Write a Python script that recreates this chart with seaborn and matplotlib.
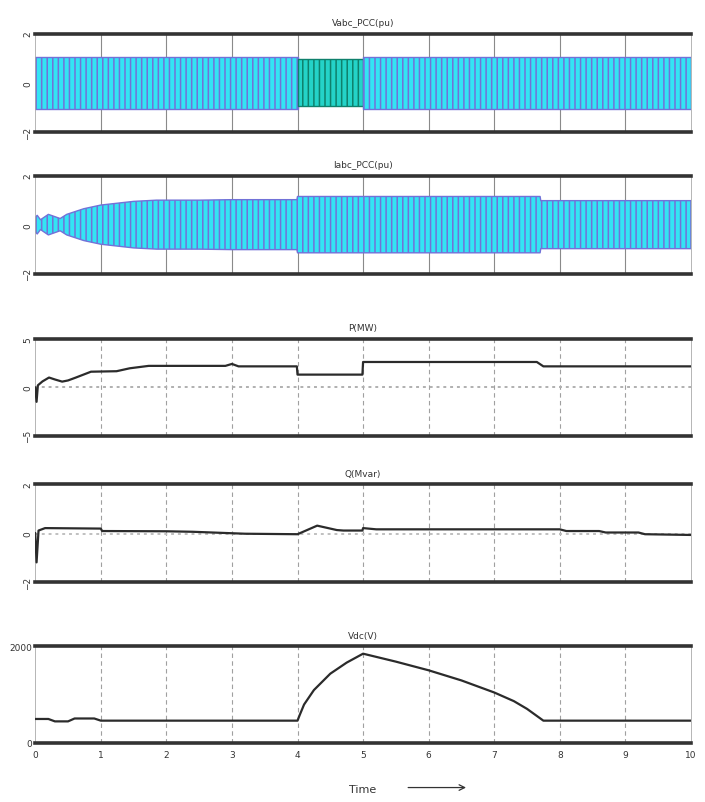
import matplotlib
matplotlib.use("Agg")
import matplotlib.pyplot as plt
import numpy as np
import pandas as pd
import seaborn as sns

# ---- data (time in s) ----
# envelope of the three-phase PCC voltage (pu)
vabc_t = [0, 4, 4, 5, 5, 10]
vabc_amp = [1.05, 1.05, 0.95, 0.95, 1.05, 1.05]

# envelope of the three-phase PCC current (pu)
iabc_t = [0, 0.03, 0.08, 0.2, 0.38, 0.48, 0.74, 1.0, 1.5, 1.85, 2.5, 3.0, 3.99,
          4.0, 7.7, 7.71, 10]
iabc_amp = [0.3, 0.38, 0.2, 0.42, 0.25, 0.42, 0.65, 0.8, 0.95, 1.0, 1.0, 1.02, 1.02,
            1.15, 1.15, 0.98, 0.98]

# active power P (MW)
p_t = [0, 0.02, 0.04, 0.11, 0.21, 0.3, 0.41, 0.5, 0.62, 0.85, 1.24, 1.44, 1.73, 2.0,
       2.9, 3.0, 3.1, 3.99, 4.0, 4.99, 5.0, 7.65, 7.75, 10]
p_val = [0, -1.5, 0.2, 0.6, 1.0, 0.8, 0.58, 0.7, 1.0, 1.6, 1.65, 1.95, 2.2, 2.2,
         2.2, 2.4, 2.15, 2.15, 1.3, 1.3, 2.6, 2.6, 2.15, 2.15]

# reactive power Q (Mvar)
q_t = [0, 0.02, 0.05, 0.15, 1.0, 1.02, 2.0, 2.4, 3.2, 4.0, 4.3, 4.6, 4.7, 4.99,
       5.0, 5.2, 8.0, 8.1, 8.6, 8.7, 9.2, 9.3, 10]
q_val = [0, -1.2, 0.1, 0.2, 0.18, 0.08, 0.07, 0.05, -0.03, -0.05, 0.3, 0.12, 0.1, 0.1,
         0.2, 0.15, 0.15, 0.08, 0.08, 0.02, 0.02, -0.05, -0.08]

# DC link voltage Vdc (V)
vdc_t = [0, 0.2, 0.3, 0.5, 0.6, 0.9, 1.0, 4.0, 4.03, 4.1, 4.25, 4.5, 4.75, 5.0,
         5.5, 6.0, 6.5, 7.0, 7.3, 7.5, 7.75, 10]
vdc_val = [490, 490, 440, 440, 500, 500, 455, 455, 560, 790, 1090, 1430, 1660, 1845,
           1680, 1500, 1290, 1040, 860, 700, 455, 455]

x_ticks = list(range(0, 11))

# ---- style ----
sns.set_theme(style="white")
plt.rcParams['font.family'] = ['DejaVu Sans']
plt.rcParams['hatch.linewidth'] = 1.1

fig = plt.figure(figsize=(7.05, 8.03), dpi=100)

left, width = 0.05, 0.93
bottoms = [0.834, 0.658, 0.456, 0.274, 0.074]
heights = [0.123, 0.122, 0.121, 0.122, 0.120]
titles = ['Vabc_PCC(pu)', 'Iabc_PCC(pu)', 'P(MW)', 'Q(Mvar)', 'Vdc(V)']
ylims = [(-2, 2), (-2, 2), (-5, 5), (-2, 2), (0, 2000)]
yticks = [[-2, 0, 2], [-2, 0, 2], [-5, 0, 5], [-2, 0, 2], [0, 2000]]

axes = []
for i, (b, h, title, yl, yt) in enumerate(zip(bottoms, heights, titles, ylims, yticks)):
    ax = fig.add_axes([left, b, width, h])
    ax.set_xlim(0, 10)
    ax.set_ylim(*yl)
    ax.set_xticks(x_ticks)
    ax.set_yticks(yt)
    gcol = '#8a8a8a' if i < 2 else '#a0a0a0'
    gls = '-' if i < 2 else (0, (4, 3))
    for xv in x_ticks[1:-1]:
        ax.axvline(xv, color=gcol, lw=0.8, ls=gls, zorder=0)
    ax.spines['top'].set_linewidth(2.6)
    ax.spines['bottom'].set_linewidth(2.6)
    ax.spines['top'].set_color('#333333')
    ax.spines['bottom'].set_color('#333333')
    ax.spines['left'].set_linewidth(0.6)
    ax.spines['right'].set_linewidth(0.6)
    ax.spines['left'].set_color('#aaaaaa')
    ax.spines['right'].set_color('#aaaaaa')
    ax.set_title(title, fontsize=6.5, color='#333333', pad=6)
    ax.tick_params(axis='both', labelsize=6.5, colors='#333333', length=0, pad=2)
    if yl[1] != 2000:
        for lab in ax.get_yticklabels():
            lab.set_rotation(90)
            lab.set_va('center')
    axes.append(ax)

for ax in axes[:-1]:
    ax.set_xticklabels([])

# panel 1: three-phase voltage band
vt = np.array(vabc_t, dtype=float)
va = np.array(vabc_amp, dtype=float)
ax = axes[0]
segments = [((0, 2), '#33e4f4', '#7272d8'), ((2, 4), '#24d3c8', '#0f806c'),
            ((4, 6), '#33e4f4', '#7272d8')]
for (s, e), fc, hc in segments:
    ax.fill_between(vt[s:e], -va[s:e], va[s:e], facecolor=fc, edgecolor=hc,
                    hatch='|||', linewidth=1.0, zorder=2)

# panel 2: three-phase current band
it = np.array(iabc_t, dtype=float)
ia = np.array(iabc_amp, dtype=float)
axes[1].fill_between(it, -ia, ia, facecolor='#33e4f4', edgecolor='#7272d8',
                     hatch='|||', linewidth=1.0, zorder=2)

# panels 3-5: scope traces
df_p = pd.DataFrame({'t': p_t, 'v': p_val})
df_q = pd.DataFrame({'t': q_t, 'v': q_val})
df_vdc = pd.DataFrame({'t': vdc_t, 'v': vdc_val})

axes[2].axhline(0, color='#b0b0b0', lw=1.4, ls=(0, (1.5, 2)), zorder=1)
axes[3].axhline(-0.05, color='#c0c0c0', lw=1.4, ls=(0, (1.5, 2)), zorder=1)

for ax, df in zip(axes[2:], [df_p, df_q, df_vdc]):
    sns.lineplot(data=df, x='t', y='v', ax=ax, color='#2b2b2b', lw=1.6,
                 estimator=None, sort=False, zorder=3)
    ax.set_xlabel('')
    ax.set_ylabel('')

axes[4].set_xticklabels([str(v) for v in x_ticks])
axes[4].tick_params(axis='x', pad=5)

# x label with arrow
fig.text(0.515, 0.016, 'Time', fontsize=8, color='#333333', ha='center', va='center')
fig.add_artist(matplotlib.patches.FancyArrowPatch(
    (0.575, 0.018), (0.665, 0.018), transform=fig.transFigure,
    arrowstyle='->', mutation_scale=10, lw=0.9, color='#333333'))

fig.savefig('out.png', dpi=100)
